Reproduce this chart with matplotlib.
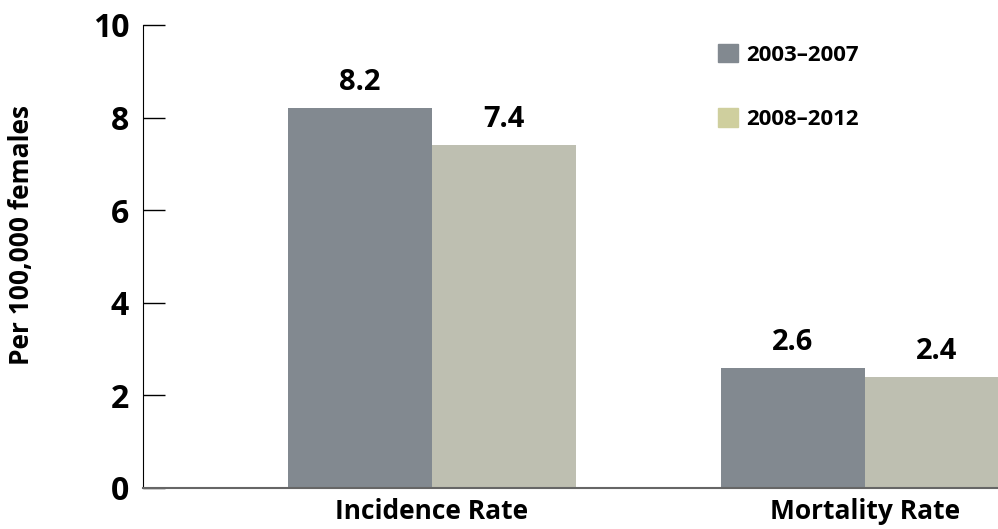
import matplotlib.pyplot as plt
import numpy as np

categories = ['Incidence Rate', 'Mortality Rate']
periods = ['2003\u20132007', '2008\u20132012']
rates_early = [8.2, 2.6]
rates_late = [7.4, 2.4]
y_ticks = [0, 2, 4, 6, 8, 10]

bar_colors = ['#828990', '#bebfb1']
legend_colors = ['#828990', '#cfcf9e']

plt.rcParams['font.family'] = ['Open Sans', 'DejaVu Sans']
plt.rcParams['font.weight'] = 'bold'

fig = plt.figure(figsize=(9.98, 5.29), dpi=100)
ax = fig.add_axes([143 / 998, 1 - 488 / 529, 855 / 998, 463 / 529])

x = np.arange(len(categories))
width = 0.333
bars1 = ax.bar(x - width / 2, rates_early, width, color=bar_colors[0])
bars2 = ax.bar(x + width / 2, rates_late, width, color=bar_colors[1])

for bars, vals in ((bars1, rates_early), (bars2, rates_late)):
    for b, v in zip(bars, vals):
        ax.annotate(f'{v:.1f}', (b.get_x() + b.get_width() / 2, v),
                    xytext=(0, 8), textcoords='offset points',
                    ha='center', va='bottom', fontsize=21, fontweight='bold')

ax.set_xlim(-0.667, 1.308)
ax.set_ylim(0, 10)
ax.set_yticks(y_ticks)
ax.set_yticklabels([str(t) for t in y_ticks], fontsize=23, fontweight='bold')
ax.tick_params(axis='y', direction='in', length=16, width=1, pad=10)
ax.set_xticks(x)
ax.set_xticklabels(categories, fontsize=19, fontweight='bold')
ax.tick_params(axis='x', length=0, pad=7)

ax.spines['top'].set_visible(False)
ax.spines['right'].set_visible(False)
ax.spines['left'].set_color('black')
ax.spines['bottom'].set_color('#666666')
ax.spines['bottom'].set_linewidth(1.5)

ax.set_ylabel('Per 100,000 females', fontsize=19, fontweight='bold')
ax.yaxis.set_label_coords(-108 / 855, 0.546)

handles = [plt.Rectangle((0, 0), 1, 1, color=c) for c in legend_colors]
fig.legend(handles, periods, loc='upper left', bbox_to_anchor=(698 / 998, 1 - 24 / 529),
           frameon=False, handlelength=0.9, handleheight=0.9, handletextpad=0.35,
           labelspacing=1.9, prop={'size': 16, 'weight': 'bold'})

fig.savefig('out.png', dpi=100)
